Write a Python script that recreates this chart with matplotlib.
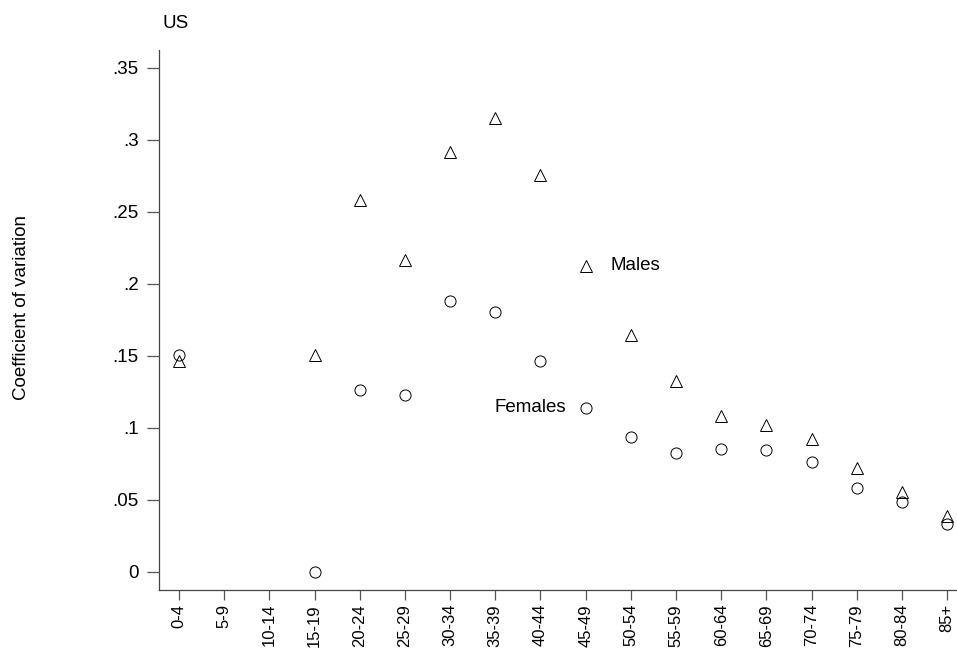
import numpy as np
import matplotlib.pyplot as plt

plt.rcParams['font.family'] = ['Liberation Sans', 'DejaVu Sans']

# Age groups
ages = ["0-4", "5-9", "10-14", "15-19", "20-24", "25-29", "30-34", "35-39",
        "40-44", "45-49", "50-54", "55-59", "60-64", "65-69", "70-74",
        "75-79", "80-84", "85+"]

# Coefficient of variation (nan = no value)
males = [0.1465, np.nan, np.nan, 0.151, 0.258, 0.2167, 0.292, 0.315,
         0.2757, 0.2125, 0.1646, 0.1326, 0.1083, 0.102, 0.0924,
         0.0722, 0.0556, 0.0389]
females = [0.1507, np.nan, np.nan, 0.0, 0.1264, 0.1229, 0.188, 0.1806,
           0.1465, 0.1139, 0.0938, 0.0826, 0.0854, 0.0847, 0.0764,
           0.0583, 0.0486, 0.0333]

yticks = [0, 0.05, 0.1, 0.15, 0.2, 0.25, 0.3, 0.35]
yticklabels = ["0", ".05", ".1", ".15", ".2", ".25", ".3", ".35"]

fs = 13.5

fig = plt.figure(figsize=(9.57, 6.48), dpi=100)
ax = fig.add_axes([159/957, 58/648, 798/957, 540/648])

x = np.arange(len(ages))
ax.plot(x, males, linestyle='none', marker='^', markersize=8,
        markerfacecolor='none', markeredgecolor='black', markeredgewidth=0.7)
ax.plot(x, females, linestyle='none', marker='o', markersize=8,
        markerfacecolor='none', markeredgecolor='black', markeredgewidth=0.7)

# labels next to the 45-49 markers
ax.annotate("Males", (9, males[9]), xytext=(18, 0), textcoords='offset points',
            ha='left', va='center', fontsize=fs)
ax.annotate("Females", (9, females[9]), xytext=(-14, 0), textcoords='offset points',
            ha='right', va='center', fontsize=fs)

ax.set_xlim(-0.443, 17.22)
ax.set_ylim(-0.0125, 0.3625)
ax.set_xticks(x)
ax.set_xticklabels(ages, rotation=90, fontsize=12)
ax.set_yticks(yticks)
ax.set_yticklabels(yticklabels, fontsize=fs)
ax.tick_params(axis='x', length=7, width=0.9, color='#555555', pad=3)
ax.tick_params(axis='y', length=8.6, width=0.9, color='#555555', pad=6)

for s in ['top', 'right']:
    ax.spines[s].set_visible(False)
for s in ['left', 'bottom']:
    ax.spines[s].set_color('#444444')
    ax.spines[s].set_linewidth(0.9)

fig.text(22/957, 1 - 308/648, "Coefficient of variation", fontsize=fs,
         rotation=90, ha='center', va='center')
fig.text(162/957, 1 - 23/648, "US", fontsize=fs, ha='left', va='center')

fig.savefig("out.png", dpi=100)
